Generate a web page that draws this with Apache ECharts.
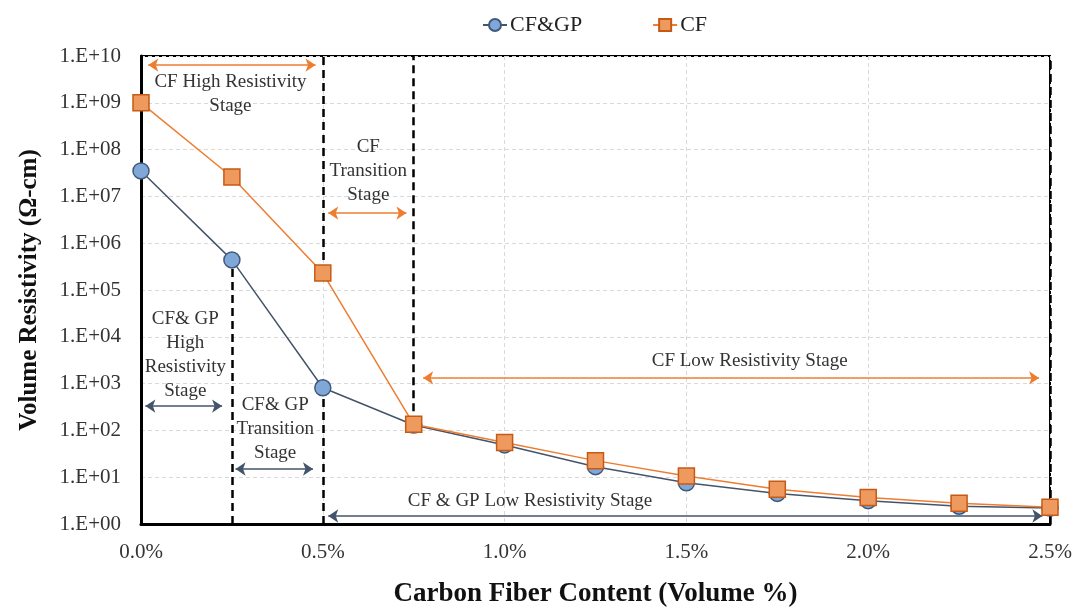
<!DOCTYPE html>
<html>
<head>
<meta charset="utf-8">
<script src="https://cdn.jsdelivr.net/npm/echarts@6/dist/echarts.min.js"></script>
<style>html,body{margin:0;padding:0;background:#fff}#c{width:1074px;height:610px}</style>
</head>
<body>
<div id="c"></div>
<script>
// ---- data ----
var xContent = [0, 0.25, 0.5, 0.75, 1.0, 1.25, 1.5, 1.75, 2.0, 2.25, 2.5]; // volume %
var cfgp = [3.5e7, 4.4e5, 815, 130, 49, 16.8, 7.6, 4.5, 3.15, 2.4, 2.2];
var cf   = [1.0e9, 2.6e7, 2.3e5, 135, 55, 22.6, 10.6, 5.5, 3.7, 2.77, 2.27];
var seriesNames = ['CF&GP', 'CF'];
var yTickLabels = ['1.E+00','1.E+01','1.E+02','1.E+03','1.E+04','1.E+05','1.E+06','1.E+07','1.E+08','1.E+09','1.E+10'];

// stage boundary drop lines: [x, yFrom, yTo]
var dropLines = [
  [0, 1, 1e10],
  [0.25, 1, 4.4e5],
  [0.5, 1, 815],
  [0.5, 2.3e5, 1e10],
  [0.75, 135, 1e10],
  [2.5, 1, 1e10]
];
// arrows: [xFrom, xTo, y]
var cfArrows = [
  [0.02, 0.48, 6.4e9],
  [0.515, 0.73, 4.4e6],
  [0.776, 2.47, 1320]
];
var cfgpArrows = [
  [0.012, 0.223, 331],
  [0.26, 0.473, 15],
  [0.515, 2.479, 1.48]
];
// stage labels: [x, y, text]
var stageLabels = [
  [0.246, 1.55e9, 'CF High Resistivity\nStage'],
  [0.625, 3.5e7, 'CF\nTransition\nStage'],
  [0.122, 4.1e3, 'CF& GP\nHigh\nResistivity\nStage'],
  [0.369, 107, 'CF& GP\nTransition\nStage'],
  [1.674, 3030, 'CF Low Resistivity Stage'],
  [1.07, 3.1, 'CF & GP Low Resistivity Stage']
];

var serif = '"Liberation Serif","Times New Roman",serif';
function pairs(arr){ return arr.map(function(v,i){ return [xContent[i], v]; }); }
function arrowData(list){
  return list.map(function(a){ return [{coord:[a[0], a[2]]},{coord:[a[1], a[2]]}]; });
}

var chart = echarts.init(document.getElementById('c'));
chart.setOption({
  animation: false,
  backgroundColor: '#fff',
  legend: {
    data: seriesNames,
    left: 477, top: 9,
    itemWidth: 24, itemHeight: 15, itemGap: 70,
    textStyle: {fontFamily: serif, fontSize: 22, color: '#222', padding: [0,0,0,-2]}
  },
  grid: {left: 141, right: 24, top: 56, bottom: 86, show: true, borderColor: '#000', borderWidth: 2,
         containLabel: false, outerBoundsMode: 'none'},
  xAxis: {
    type: 'value', min: 0, max: 2.5, interval: 0.5,
    name: 'Carbon Fiber Content (Volume %)', nameLocation: 'middle', nameGap: 57,
    nameTextStyle: {fontFamily: serif, fontSize: 27, fontWeight: 'bold', color: '#111'},
    axisLine: {lineStyle: {color: '#000', width: 3}},
    axisTick: {show: false},
    axisLabel: {fontFamily: serif, fontSize: 21, color: '#333', margin: 18,
      formatter: function(v){ return v.toFixed(1) + '%'; }},
    splitLine: {show: true, lineStyle: {color: '#d9d9d9', type: [4,3], width: 1}}
  },
  yAxis: {
    type: 'log', logBase: 10, min: 1, max: 1e10, interval: 1,
    name: 'Volume Resistivity (Ω-cm)', nameLocation: 'middle', nameGap: 99,
    nameTextStyle: {fontFamily: serif, fontSize: 25, fontWeight: 'bold', color: '#111'},
    axisLine: {lineStyle: {color: '#000', width: 3}},
    axisTick: {show: false},
    axisLabel: {fontFamily: serif, fontSize: 21, color: '#333', margin: 20,
      formatter: function(v){ var e = Math.round(Math.log10(v)); return yTickLabels[e] || ''; }},
    splitLine: {show: true, lineStyle: {color: '#d9d9d9', type: [4,3], width: 1}}
  },
  series: [
    {
      name: 'drops', type: 'line', data: [], z: 1,
      markLine: {
        silent: true, z: 1, symbol: 'none', label: {show: false},
        lineStyle: {color: '#000', width: 2.5, type: [8,5]},
        data: dropLines.map(function(d){ return [{coord:[d[0], d[1]]},{coord:[d[0], d[2]]}]; })
      }
    },
    {
      name: 'CF&GP', type: 'line', data: pairs(cfgp), z: 3,
      symbol: 'circle', symbolSize: 16,
      lineStyle: {color: '#44546A', width: 1.5},
      itemStyle: {color: '#7FA8D8', borderColor: '#41597C', borderWidth: 1.5},
      markLine: {
        silent: true, z: 2, symbol: ['arrow','arrow'], symbolSize: 10,
        label: {show: false},
        lineStyle: {color: '#44546A', width: 1.5, type: 'solid'},
        data: arrowData(cfgpArrows)
      },
      markPoint: {
        silent: true, z: 2, symbol: 'circle', symbolSize: 0,
        label: {show: true, position: 'inside', fontFamily: serif, fontSize: 19, lineHeight: 24, color: '#333',
          formatter: function(p){ return p.data.txt; }},
        data: stageLabels.map(function(s){ return {coord:[s[0], s[1]], txt: s[2], value: 0}; })
      }
    },
    {
      name: 'CF', type: 'line', data: pairs(cf), z: 4,
      symbol: 'rect', symbolSize: 16,
      lineStyle: {color: '#ED7D31', width: 1.5},
      itemStyle: {color: '#EE9A5E', borderColor: '#C65A14', borderWidth: 1.5},
      markLine: {
        silent: true, z: 2, symbol: ['arrow','arrow'], symbolSize: 10,
        label: {show: false},
        lineStyle: {color: '#ED7D31', width: 1.5, type: 'solid'},
        data: arrowData(cfArrows)
      }
    }
  ]
});
</script>
</body>
</html>
